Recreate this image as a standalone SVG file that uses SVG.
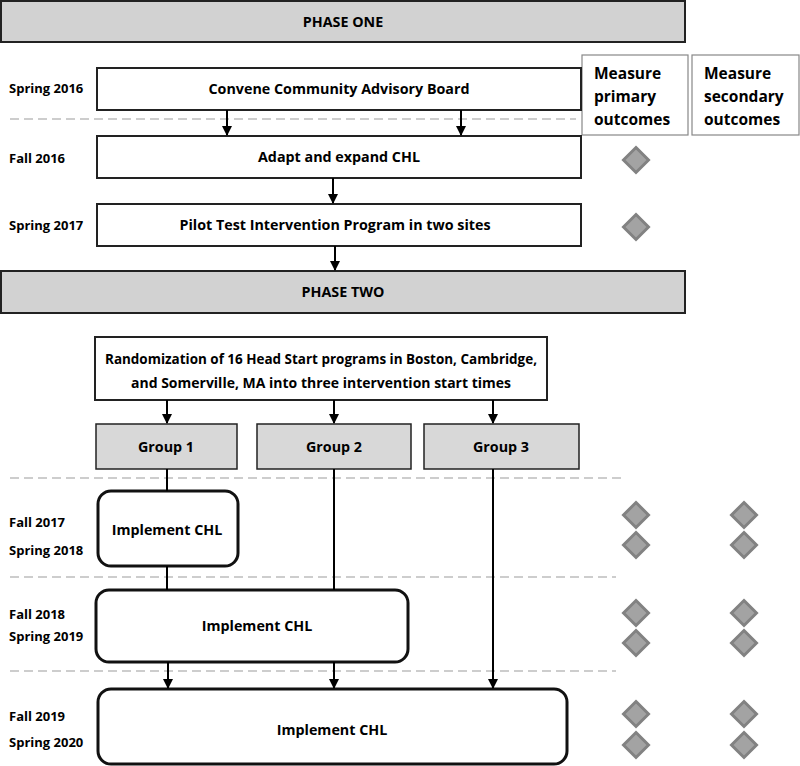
<svg xmlns="http://www.w3.org/2000/svg" width="800" height="766" viewBox="0 0 800 766">
<defs>
<marker id="a" viewBox="0 0 10 10" refX="9" refY="5" markerWidth="10" markerHeight="10" orient="auto" markerUnits="userSpaceOnUse">
<path d="M0,0 L10,5 L0,10 z" fill="#000"/>
</marker>
<g id="dm"><path d="M0,-12.5 L12.5,0 L0,12.5 L-12.5,0 z" fill="#a3a3a3" stroke="#828282" stroke-width="3" stroke-linejoin="miter"/></g>
</defs>
<style>
text{font-family:"Open Sans","Liberation Sans",sans-serif;font-weight:bold;fill:#000;}
.t{font-size:14.3px;text-anchor:middle;}
.lb{font-size:13px;}
.ms{font-size:15.5px;}
.bar{fill:#d2d2d2;stroke:#222;stroke-width:2;}
.box{fill:#fff;stroke:#222;stroke-width:2;}
.grp{fill:#d8d8d8;stroke:#222;stroke-width:1.5;}
.rbox{fill:#fff;stroke:#111;stroke-width:3;}
.mbox{fill:#fff;stroke:#888;stroke-width:1.2;}
.dash{stroke:#bdbdbd;stroke-width:1.5;stroke-dasharray:9 5;fill:none;}
.ln{stroke:#000;stroke-width:2;fill:none;}
.arr{stroke:#000;stroke-width:2;fill:none;marker-end:url(#a);}
</style>
<g id="separators">
<line class="dash" x1="10" y1="119" x2="576" y2="119"/>
<line class="dash" x1="10" y1="478" x2="622" y2="478"/>
<line class="dash" x1="10" y1="577" x2="616" y2="577"/>
<line class="dash" x1="10" y1="671" x2="616" y2="671"/>
</g>
<g id="phase-one"><rect class="bar" x="1" y="1" width="684" height="41"/><text class="t" x="343" y="27">PHASE ONE</text></g>
<g id="phase-two"><rect class="bar" x="1" y="271" width="684" height="42"/><text class="t" x="343" y="297">PHASE TWO</text></g>
<g id="labels">
<text class="lb" x="9" y="93">Spring 2016</text>
<text class="lb" x="9" y="163">Fall 2016</text>
<text class="lb" x="9" y="230">Spring 2017</text>
<text class="lb" x="9" y="527">Fall 2017</text>
<text class="lb" x="9" y="555">Spring 2018</text>
<text class="lb" x="9" y="619">Fall 2018</text>
<text class="lb" x="9" y="641">Spring 2019</text>
<text class="lb" x="9" y="721">Fall 2019</text>
<text class="lb" x="9" y="747">Spring 2020</text>
</g>
<g id="measure-primary"><rect class="mbox" x="582" y="55" width="106" height="80"/>
<text class="ms" x="594" y="79">Measure</text><text class="ms" x="594" y="102">primary</text><text class="ms" x="594" y="125">outcomes</text></g>
<g id="measure-secondary"><rect class="mbox" x="692" y="55" width="107" height="80"/>
<text class="ms" x="704" y="79">Measure</text><text class="ms" x="704" y="102">secondary</text><text class="ms" x="704" y="125">outcomes</text></g>
<g id="n-cab"><rect class="box" x="97" y="68" width="484" height="42"/><text class="t" x="339" y="94">Convene Community Advisory Board</text></g>
<g id="n-adapt"><rect class="box" x="97" y="136" width="484" height="42"/><text class="t" x="339" y="162">Adapt and expand CHL</text></g>
<g id="n-pilot"><rect class="box" x="97" y="204" width="484" height="42"/><text class="t" x="335" y="230">Pilot Test Intervention Program in two sites</text></g>
<g id="n-random"><rect class="box" x="95" y="337" width="452" height="63"/>
<text class="t" x="321" y="364" textLength="432" lengthAdjust="spacingAndGlyphs">Randomization of 16 Head Start programs in Boston, Cambridge,</text>
<text class="t" x="321" y="388" textLength="380" lengthAdjust="spacingAndGlyphs">and Somerville, MA into three intervention start times</text></g>
<g id="n-g1"><rect class="grp" x="96" y="424" width="141" height="45"/><text class="t" x="166" y="452">Group 1</text></g>
<g id="n-g2"><rect class="grp" x="257" y="424" width="154" height="45"/><text class="t" x="334" y="452">Group 2</text></g>
<g id="n-g3"><rect class="grp" x="424" y="424" width="155" height="45"/><text class="t" x="501" y="452">Group 3</text></g>
<g id="n-impl1"><rect class="rbox" x="98" y="491" width="140" height="75" rx="13"/><text class="t" x="167" y="535">Implement CHL</text></g>
<g id="n-impl2"><rect class="rbox" x="96" y="590" width="312" height="72" rx="13"/><text class="t" x="257" y="631">Implement CHL</text></g>
<g id="n-impl3"><rect class="rbox" x="98" y="689" width="469" height="75" rx="13"/><text class="t" x="332" y="735">Implement CHL</text></g>
<g id="connectors">
<line class="arr" x1="227" y1="110" x2="227" y2="135"/>
<line class="arr" x1="461" y1="110" x2="461" y2="135"/>
<line class="arr" x1="333" y1="178" x2="333" y2="203"/>
<line class="arr" x1="335" y1="246" x2="335" y2="270"/>
<line class="arr" x1="167" y1="400" x2="167" y2="423"/>
<line class="arr" x1="334" y1="400" x2="334" y2="423"/>
<line class="arr" x1="493" y1="400" x2="493" y2="423"/>
<line class="ln" x1="167" y1="469" x2="167" y2="491"/>
<line class="ln" x1="334" y1="469" x2="334" y2="590"/>
<line class="arr" x1="493" y1="469" x2="493" y2="688"/>
<line class="ln" x1="167" y1="566" x2="167" y2="590"/>
<line class="arr" x1="168" y1="662" x2="168" y2="688"/>
<line class="arr" x1="334" y1="662" x2="334" y2="688"/>
</g>
<g id="markers">
<use href="#dm" x="636" y="160"/>
<use href="#dm" x="636" y="227"/>
<use href="#dm" x="636" y="515"/><use href="#dm" x="636" y="545"/>
<use href="#dm" x="744" y="515"/><use href="#dm" x="744" y="545"/>
<use href="#dm" x="636" y="613"/><use href="#dm" x="636" y="643"/>
<use href="#dm" x="744" y="613"/><use href="#dm" x="744" y="643"/>
<use href="#dm" x="636" y="714"/><use href="#dm" x="636" y="745"/>
<use href="#dm" x="744" y="714"/><use href="#dm" x="744" y="745"/>
</g>
</svg>
